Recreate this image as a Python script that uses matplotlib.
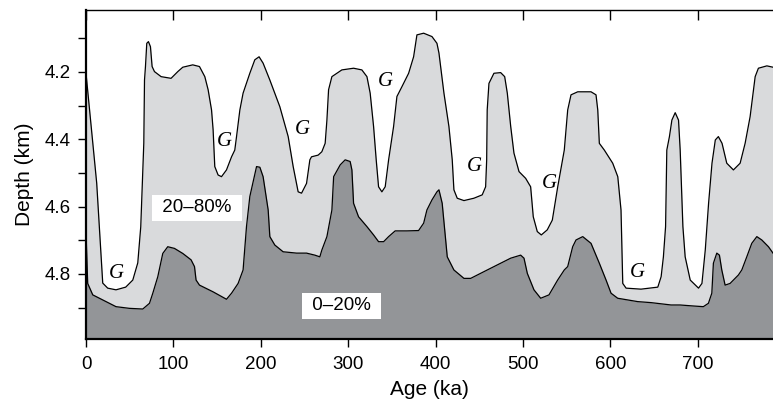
import matplotlib
matplotlib.use('Agg')
import matplotlib.pyplot as plt

# ---- data ----
upper_age = [0, 11.4, 12.2, 19.1, 24.8, 34.3, 45.4, 53.5, 59.2, 62.6, 66.1, 66.9, 68.0, 69.5, 71.4,
             73.7, 75.6, 78.3, 85.9, 97.3, 105.0, 110.7, 122.1, 129.8, 135.9, 139.7, 143.6, 145.4,
             147.3, 151.1, 155.0, 160.7, 166.5, 170.2, 172.2, 176.0, 179.7, 187.4, 193.1, 198.0,
             202.6, 210.3, 221.7, 231.3, 237.0, 242.7, 246.6, 252.3, 256.1, 258.0, 265.6, 269.8,
             273.6, 275.6, 277.5, 281.3, 292.7, 306.1, 315.6, 321.4, 325.1, 329.0, 332.0, 334.7,
             338.5, 342.3, 346.2, 351.9, 355.7, 361.4, 369.1, 374.8, 378.6, 386.3, 395.8, 401.5,
             403.8, 409.5, 415.2, 419.0, 420.9, 424.7, 432.4, 443.8, 453.3, 457.2, 458.4, 459.0,
             461.0, 466.7, 474.4, 479.0, 482.0, 485.9, 489.6, 495.4, 503.0, 508.7, 511.7, 516.3,
             520.9, 527.7, 533.5, 539.7, 547.2, 551.1, 554.9, 562.6, 577.8, 583.5, 585.5, 587.3,
             593.0, 602.6, 608.4, 612.1, 614.1, 617.9, 635.0, 654.2, 658.0, 660.6, 663.1, 664.5,
             667.5, 670.3, 674.1, 677.9, 679.8, 682.9, 685.5, 691.3, 700.8, 704.7, 708.5, 712.3,
             716.2, 720.0, 723.5, 727.7, 733.1, 740.7, 748.4, 754.1, 759.8, 765.6, 769.3, 779.0, 786.0]
upper_depth = [4.205, 4.511, 4.530, 4.827, 4.842, 4.847, 4.839, 4.818, 4.767, 4.660, 4.411, 4.224,
               4.184, 4.115, 4.110, 4.125, 4.184, 4.199, 4.214, 4.219, 4.199, 4.186, 4.179, 4.184,
               4.214, 4.253, 4.313, 4.372, 4.481, 4.506, 4.511, 4.491, 4.452, 4.432, 4.392, 4.313,
               4.263, 4.204, 4.164, 4.155, 4.174, 4.224, 4.303, 4.392, 4.481, 4.556, 4.560, 4.531,
               4.461, 4.452, 4.447, 4.437, 4.412, 4.343, 4.253, 4.214, 4.194, 4.189, 4.194, 4.214,
               4.263, 4.362, 4.461, 4.541, 4.556, 4.541, 4.461, 4.362, 4.273, 4.244, 4.204, 4.155,
               4.090, 4.085, 4.095, 4.115, 4.144, 4.263, 4.362, 4.461, 4.550, 4.575, 4.582, 4.575,
               4.565, 4.541, 4.461, 4.313, 4.234, 4.204, 4.202, 4.214, 4.263, 4.362, 4.441, 4.496,
               4.516, 4.541, 4.630, 4.674, 4.684, 4.669, 4.640, 4.541, 4.432, 4.313, 4.268, 4.259,
               4.259, 4.268, 4.313, 4.412, 4.432, 4.471, 4.511, 4.610, 4.828, 4.842, 4.845, 4.839,
               4.808, 4.749, 4.659, 4.432, 4.392, 4.343, 4.321, 4.343, 4.432, 4.659, 4.749, 4.818,
               4.842, 4.828, 4.729, 4.590, 4.471, 4.402, 4.392, 4.412, 4.471, 4.491, 4.471, 4.412,
               4.333, 4.214, 4.189, 4.182, 4.186]

lower_age = [0, 1.9, 7.7, 19.1, 34.3, 49.7, 64.9, 72.6, 76.4, 82.1, 87.8, 93.5, 101.2, 110.7,
             120.2, 124.1, 125.9, 129.8, 145.4, 160.7, 166.5, 174.0, 179.7, 183.6, 187.4, 191.2,
             195.1, 198.9, 202.6, 208.4, 210.3, 216.0, 225.5, 240.9, 252.3, 261.8, 267.5, 269.8,
             275.6, 281.3, 283.3, 290.8, 296.5, 302.2, 304.2, 306.1, 311.8, 321.3, 329.0, 334.7,
             340.5, 346.2, 353.7, 367.1, 380.5, 386.3, 390.0, 395.8, 401.5, 403.8, 407.5, 413.3,
             420.9, 432.4, 440.1, 455.3, 474.4, 485.9, 497.3, 501.1, 504.9, 512.5, 520.2, 529.7,
             539.6, 547.2, 551.1, 556.8, 560.6, 568.3, 577.8, 587.3, 595.0, 600.7, 608.3, 631.2,
             646.5, 669.4, 679.7, 694.9, 706.3, 712.1, 716.0, 717.8, 721.7, 724.7, 727.4, 731.2,
             736.9, 746.4, 750.3, 756.0, 761.7, 767.5, 773.2, 780.8, 786.0]
lower_depth = [4.679, 4.828, 4.862, 4.877, 4.897, 4.902, 4.904, 4.887, 4.857, 4.808, 4.739, 4.719,
               4.724, 4.739, 4.758, 4.778, 4.818, 4.833, 4.853, 4.875, 4.857, 4.828, 4.788, 4.659,
               4.570, 4.526, 4.481, 4.483, 4.511, 4.610, 4.689, 4.714, 4.734, 4.738, 4.738, 4.744,
               4.749, 4.729, 4.689, 4.610, 4.511, 4.476, 4.461, 4.466, 4.491, 4.590, 4.630, 4.659,
               4.684, 4.704, 4.704, 4.689, 4.672, 4.672, 4.671, 4.649, 4.610, 4.580, 4.556, 4.550,
               4.590, 4.749, 4.788, 4.813, 4.813, 4.793, 4.768, 4.753, 4.744, 4.753, 4.798, 4.847,
               4.872, 4.862, 4.818, 4.788, 4.778, 4.719, 4.699, 4.689, 4.709, 4.768, 4.818, 4.857,
               4.872, 4.882, 4.885, 4.892, 4.892, 4.895, 4.897, 4.887, 4.857, 4.768, 4.738, 4.744,
               4.788, 4.833, 4.828, 4.803, 4.788, 4.749, 4.709, 4.689, 4.699, 4.719, 4.738]

x_ticks = [0, 100, 200, 300, 400, 500, 600, 700]
y_ticks = [4.2, 4.4, 4.6, 4.8]
y_minor_ticks = [4.1, 4.3, 4.5, 4.7, 4.9]

band_labels = ["20\u201380%", "0\u201320%"]
band_label_age = [127, 292]
band_label_depth = [4.604, 4.895]

g_age = [34.3, 158.8, 247.7, 342.0, 444.2, 530.5, 630.8]
g_depth = [4.798, 4.407, 4.372, 4.229, 4.481, 4.531, 4.796]

# ---- styling ----
LIGHT = '#d9dadc'
DARK = '#939598'
plt.rcParams['font.family'] = ['Liberation Sans', 'DejaVu Sans']

fig = plt.figure(figsize=(7.73, 4.04), dpi=100)
ax = fig.add_axes([0.1113, 0.1609, 0.8887, 0.8136])

bottom = 5.2
ax.fill_between(upper_age, upper_depth, bottom, color=LIGHT, lw=0, zorder=1)
ax.fill_between(lower_age, lower_depth, bottom, color=DARK, lw=0, zorder=2)
ax.plot(upper_age, upper_depth, color='black', lw=0.9, zorder=3, solid_joinstyle='round')
ax.plot(lower_age, lower_depth, color='black', lw=0.9, zorder=3, solid_joinstyle='round')

ax.set_xlim(0, 786)
ax.set_ylim(4.993, 4.017)

ax.set_xticks(x_ticks)
ax.set_yticks(y_ticks)
ax.set_yticks(y_minor_ticks, minor=True)
ax.tick_params(axis='both', which='both', direction='out', length=6, width=1.0,
               labelsize=13.5, pad=5, top=False, right=False)
ax.tick_params(axis='x', pad=6)
ax.yaxis.set_major_formatter(plt.FuncFormatter(lambda v, p: f"{v:.1f}"))

for s in ['right', 'top']:
    ax.spines[s].set_visible(False)
for s in ['left', 'bottom']:
    ax.spines[s].set_linewidth(1.6)

sec = ax.secondary_xaxis('top')
sec.set_xticks(x_ticks)
sec.tick_params(direction='in', length=7, width=1.0, labeltop=False)
sec.spines['top'].set_linewidth(1.0)

ax.set_xlabel('Age (ka)', fontsize=15, labelpad=5)
ax.set_ylabel('Depth (km)', fontsize=15, labelpad=8)

for txt, a, d in zip(band_labels, band_label_age, band_label_depth):
    ax.text(a, d, " " + txt + " ", fontsize=13.5, ha='center', va='center', zorder=5,
            bbox=dict(facecolor='white', edgecolor='none', pad=3.5))

for a, d in zip(g_age, g_depth):
    ax.text(a, d, 'G', fontsize=15, style='italic', ha='center', va='center',
            family=['Liberation Serif', 'DejaVu Serif'], zorder=5)

fig.savefig('out.png', dpi=100)
